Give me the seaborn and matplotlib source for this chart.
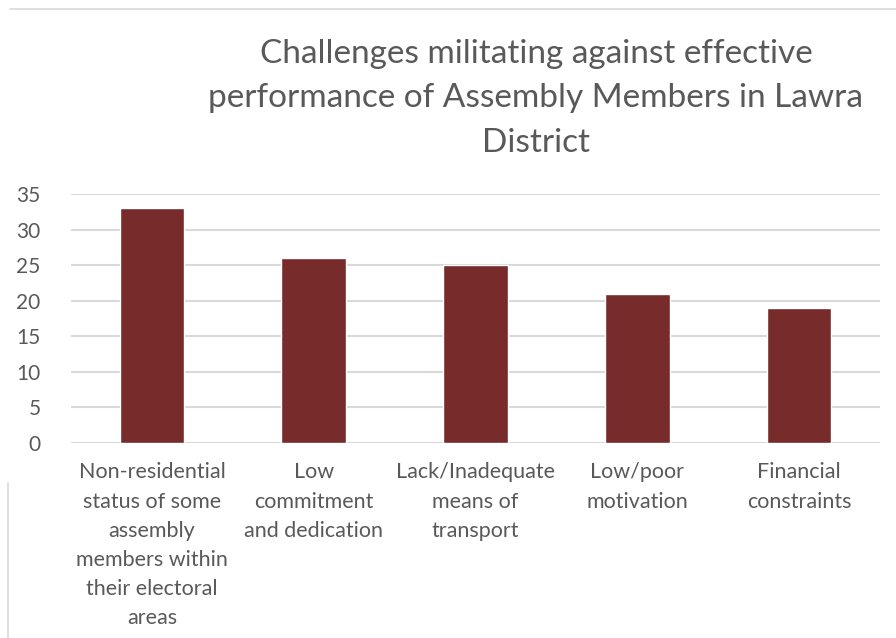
import pandas as pd
import matplotlib.pyplot as plt
import seaborn as sns
from matplotlib.lines import Line2D

challenges = [
    'Non-residential\nstatus of some\nassembly\nmembers within\ntheir electoral\nareas',
    'Low\ncommitment\nand dedication',
    'Lack/Inadequate\nmeans of\ntransport',
    'Low/poor\nmotivation',
    'Financial\nconstraints',
]
counts = [33, 26, 25, 21, 19]
yticks = [0, 5, 10, 15, 20, 25, 30, 35]

data = pd.DataFrame({'challenge': challenges, 'count': counts})

sns.set_style('white')
plt.rcParams['font.family'] = ['Lato', 'DejaVu Sans']
text_col = '#595959'
grid_col = '#D9D9D9'

fig = plt.figure(figsize=(8.96, 6.38), dpi=100)
ax = fig.add_axes([71 / 896, (638 - 443) / 638, (880 - 71) / 896, (443 - 194) / 638])

sns.barplot(data=data, x='challenge', y='count', color='#772B2B', width=0.4,
            saturation=1, ax=ax, zorder=3)

ax.set_ylim(0, 35)
ax.set_yticks(yticks)
ax.yaxis.grid(True, color=grid_col, linewidth=1.5, zorder=0)
ax.set_axisbelow(True)
for s in ax.spines.values():
    s.set_visible(False)
ax.set_xlabel('')
ax.set_ylabel('')
ax.tick_params(axis='y', length=0, pad=22, labelsize=15, labelcolor=text_col)
ax.tick_params(axis='x', length=0, pad=14, labelsize=15.5, labelcolor=text_col)
for lbl in ax.get_xticklabels():
    lbl.set_linespacing(1.57)
    lbl.set_va('top')

fig.text(536 / 896, 1 - 39 / 638,
         'Challenges militating against effective\nperformance of Assembly Members in Lawra\nDistrict',
         ha='center', va='top', fontsize=24, color=text_col, linespacing=1.6)

# screenshot frame lines
fig.add_artist(Line2D([10 / 896, 1], [1 - 9 / 638, 1 - 9 / 638], color=grid_col, linewidth=1.2))
fig.add_artist(Line2D([8 / 896, 8 / 896], [0, (638 - 483) / 638], color=grid_col, linewidth=1.2))

fig.savefig('out.png', dpi=100)
